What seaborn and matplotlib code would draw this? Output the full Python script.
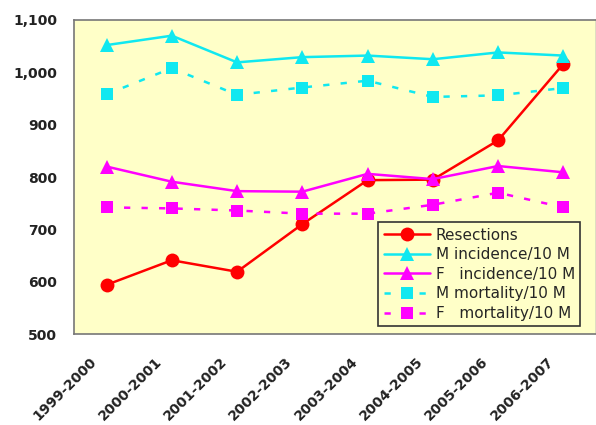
import matplotlib
matplotlib.use("Agg")
import matplotlib.pyplot as plt
import matplotlib.transforms as mtransforms
from matplotlib.ticker import FuncFormatter, FixedLocator
import seaborn as sns
import pandas as pd

periods = ["1999-2000", "2000-2001", "2001-2002", "2002-2003",
           "2003-2004", "2004-2005", "2005-2006", "2006-2007"]
resections = [594, 641, 619, 710, 794, 795, 870, 1016]
m_incidence = [1052, 1070, 1019, 1029, 1032, 1025, 1038, 1032]
f_incidence = [820, 791, 773, 772, 806, 796, 821, 809]
m_mortality = [958, 1008, 957, 971, 984, 953, 956, 970]
f_mortality = [742, 740, 736, 730, 730, 747, 770, 742]

yticks = [500, 600, 700, 800, 900, 1000, 1100]

df = pd.DataFrame({"period": periods, "res": resections, "mi": m_incidence,
                   "fi": f_incidence, "mm": m_mortality, "fm": f_mortality})

sns.set_style("white")
plt.rcParams['font.family'] = ['DejaVu Sans']

fig = plt.figure(figsize=(5.96, 4.25), dpi=100)
ax = fig.add_axes([0.124, 0.214, 0.876, 0.739])

yel = "#FFFFC8"
cyan = "#10E8F0"
mag = "#FF00FF"
ax.set_facecolor(yel)

sns.lineplot(data=df, x="period", y="res", ax=ax, color="#FF0000", lw=1.8,
             marker="o", markersize=10, markeredgewidth=0, label="Resections")
sns.lineplot(data=df, x="period", y="mi", ax=ax, color=cyan, lw=1.8,
             marker="^", markersize=10, markeredgewidth=0, label="M incidence/10 M")
sns.lineplot(data=df, x="period", y="fi", ax=ax, color=mag, lw=1.8,
             marker="^", markersize=10, markeredgewidth=0, label="F   incidence/10 M")
sns.lineplot(data=df, x="period", y="mm", ax=ax, color=cyan, lw=1.8,
             marker="s", markersize=9, markeredgewidth=0, label="M mortality/10 M",
             dashes=(2.5, 4.5))
sns.lineplot(data=df, x="period", y="fm", ax=ax, color=mag, lw=1.8,
             marker="s", markersize=9, markeredgewidth=0, label="F   mortality/10 M",
             dashes=(2.5, 4.5))

ax.set_xlim(-0.5, len(periods) - 0.5)
ax.set_ylim(500, 1100)
ax.set_yticks(yticks)
ax.yaxis.set_major_formatter(FuncFormatter(lambda v, p: f"{int(v):,}"))
ax.set_xlabel("")
ax.set_ylabel("")

ax.xaxis.set_minor_locator(FixedLocator([i + 0.5 for i in range(len(periods) - 1)]))
ax.tick_params(axis="x", which="major", length=0, pad=18)
ax.tick_params(axis="x", which="minor", length=5, direction="in", color="#555555", width=1)
ax.tick_params(axis="y", length=0, pad=12)

ax.set_xticks(range(len(periods)))
ax.set_xticklabels(periods, rotation=45, ha="right", va="center", rotation_mode="anchor",
                   color="#222222", fontsize=10, fontweight="bold")
shift = mtransforms.ScaledTranslation(-0.12, 0, fig.dpi_scale_trans)
for t in ax.get_xticklabels():
    t.set_transform(t.get_transform() + shift)
for t in ax.get_yticklabels():
    t.set_fontsize(10)
    t.set_fontweight("bold")
    t.set_color("#222222")

for s in ax.spines.values():
    s.set_color("#777777")
    s.set_linewidth(1.2)
ax.spines["right"].set_color("#D8D8C0")

leg = ax.legend(loc="lower right", bbox_to_anchor=(0.97, 0.025), fontsize=11,
                frameon=True, fancybox=False, handlelength=3.0, handletextpad=0.4,
                borderpad=0.35, labelspacing=0.3, borderaxespad=0)
leg.get_frame().set_facecolor(yel)
leg.get_frame().set_edgecolor("#333333")
leg.get_frame().set_linewidth(1.2)
leg.get_frame().set_alpha(1)

fig.savefig("out.png", dpi=100, facecolor="white")
